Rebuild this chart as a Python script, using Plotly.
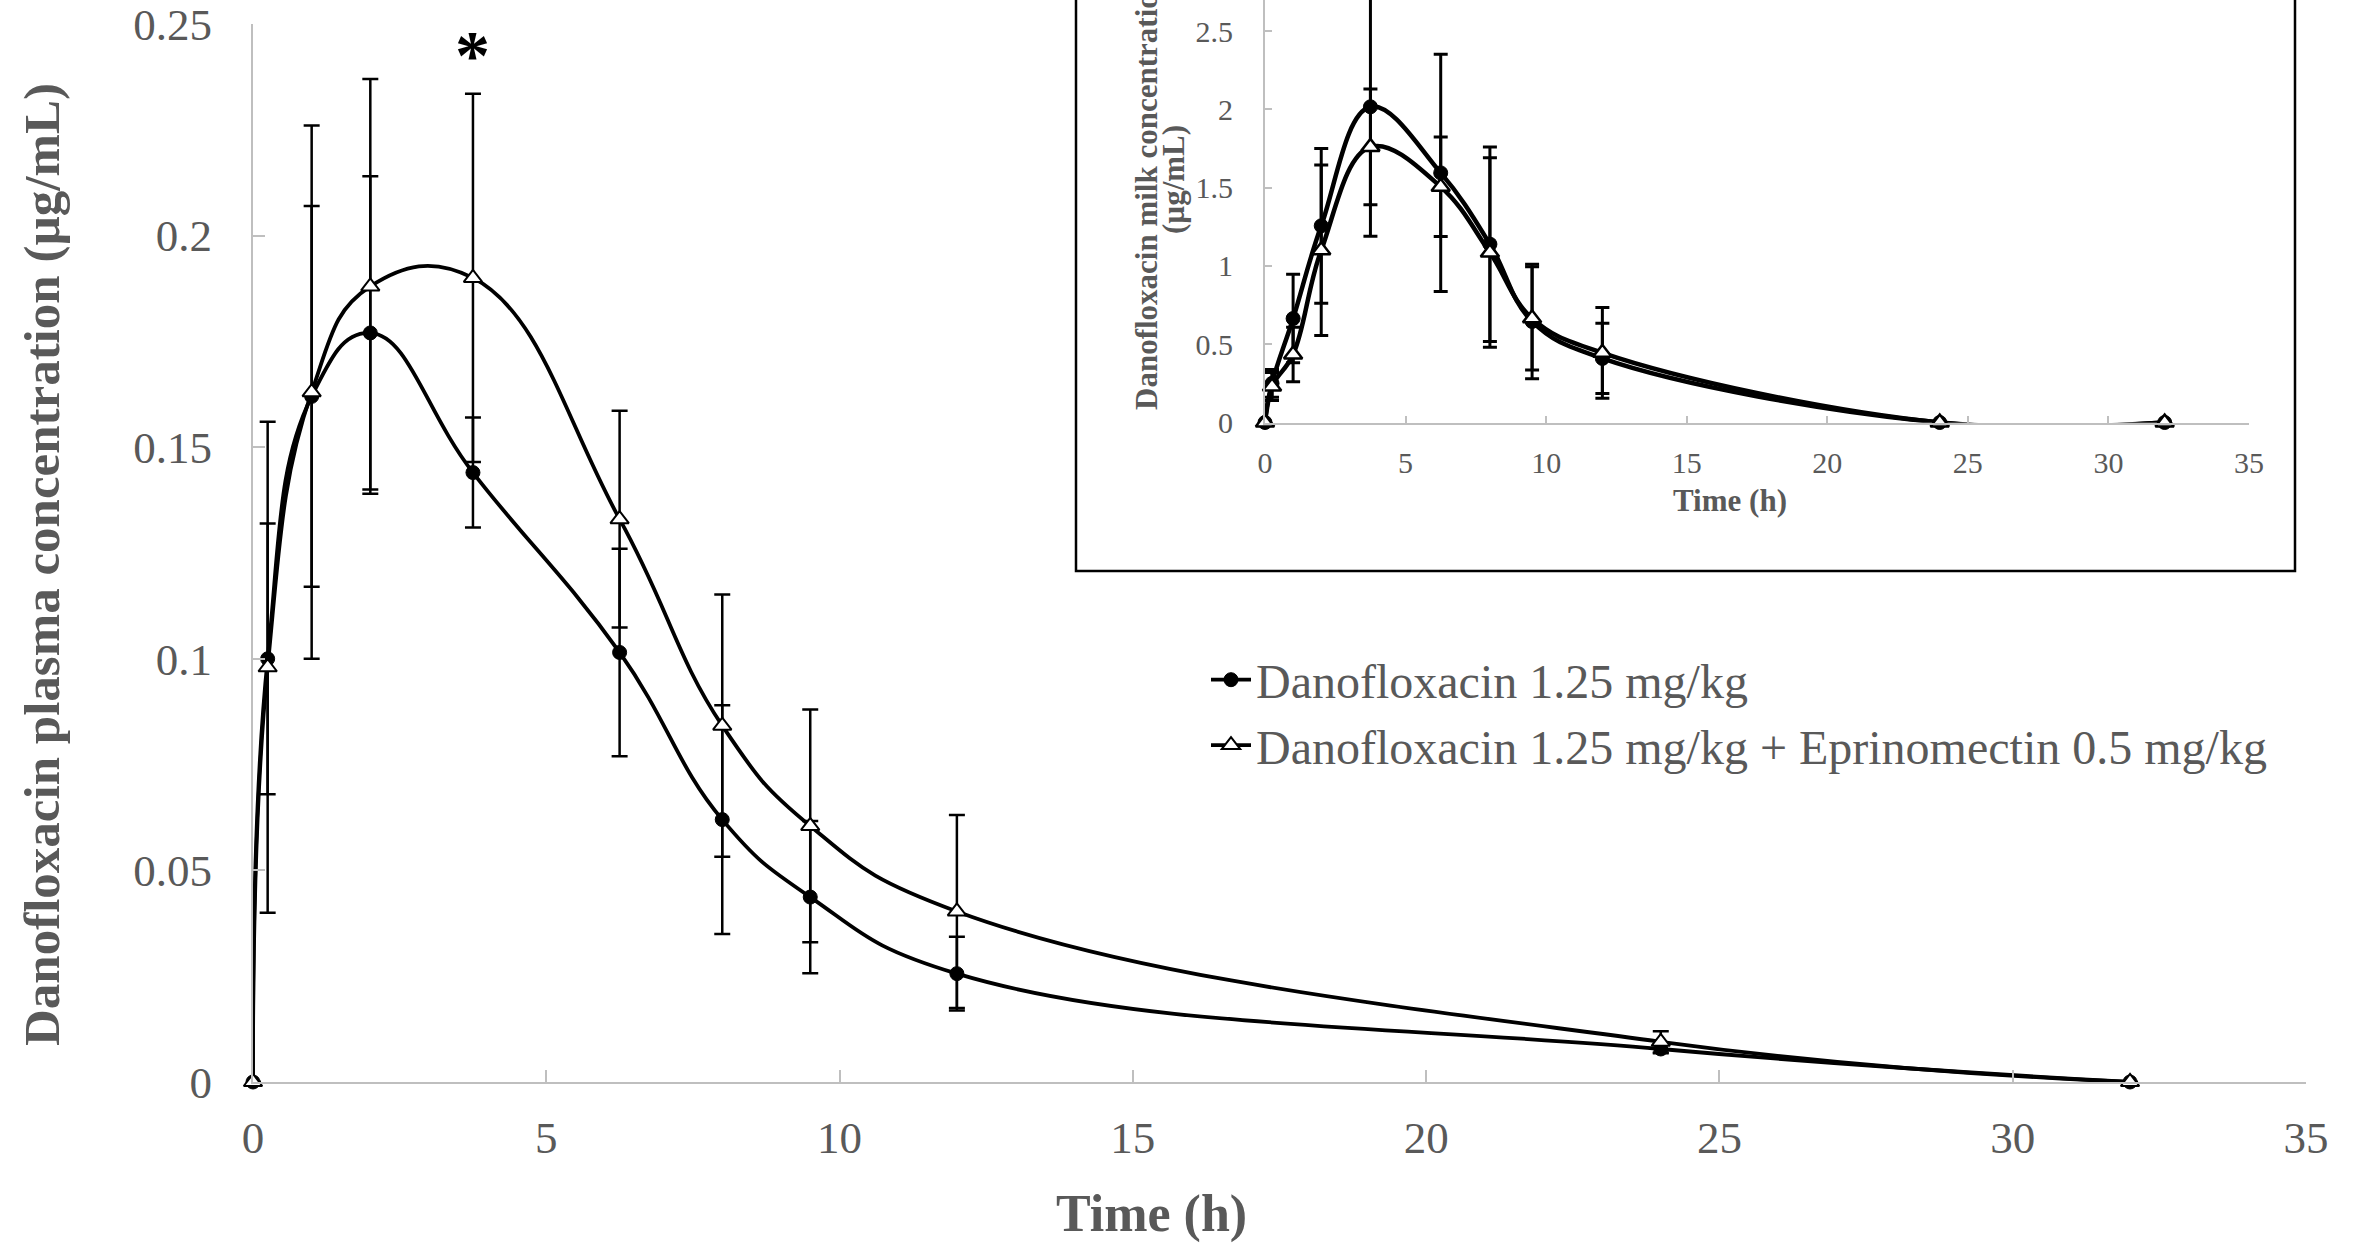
import plotly.graph_objects as go

# ---------------- data ----------------
time_h = [0, 0.25, 1, 2, 3.75, 6.25, 8, 9.5, 12, 24, 32]

plasma_dano = [0, 0.100, 0.162, 0.177, 0.144, 0.1015, 0.062, 0.0437, 0.0256, 0.0078, 0]
plasma_dano_sd = [0, 0.032, 0.045, 0.037, 0.013, 0.0245, 0.027, 0.018, 0.0087, 0.001, 0]
plasma_combo = [0, 0.098, 0.163, 0.188, 0.190, 0.133, 0.0842, 0.0605, 0.0403, 0.0095, 0]
plasma_combo_sd = [0, 0.058, 0.063, 0.049, 0.0435, 0.0256, 0.031, 0.0275, 0.0228, 0.0025, 0]

milk_dano = [0, 0.25, 0.664, 1.256, 2.016, 1.594, 1.139, 0.645, 0.409, 0, 0]
milk_dano_sd = [0, 0.088, 0.283, 0.494, 0.826, 0.758, 0.621, 0.365, 0.224, 0, 0]
milk_combo = [0, 0.23, 0.434, 1.100, 1.760, 1.505, 1.085, 0.665, 0.445, 0, 0]
milk_combo_sd = [0, 0.09, 0.174, 0.545, 0.37, 0.318, 0.605, 0.33, 0.29, 0, 0]

name_dano = "Danofloxacin 1.25 mg/kg"
name_combo = "Danofloxacin 1.25 mg/kg + Eprinomectin 0.5 mg/kg"

x_ticks = [0, 5, 10, 15, 20, 25, 30, 35]
plasma_ticks = [0, 0.05, 0.1, 0.15, 0.2, 0.25]
plasma_ticktext = ["0", "0.05", "0.1", "0.15", "0.2", "0.25"]
milk_ticks = [0, 0.5, 1, 1.5, 2, 2.5]

# ---------------- styling ----------------
FONT = "Liberation Serif, Times New Roman, serif"
GREY_TXT = "#595959"
AXIS_GREY = "#bfbfbf"
W, H = 2362, 1244


def err(vals):
    return [v if v > 0 else None for v in vals]


fig = go.Figure()

# main plot traces
fig.add_trace(go.Scatter(
    x=time_h, y=plasma_dano, name=name_dano, mode="lines+markers",
    line=dict(color="black", width=3.8, shape="spline", smoothing=1.25),
    marker=dict(symbol="circle", size=14, color="black", line=dict(color="black", width=1)),
    error_y=dict(type="data", array=err(plasma_dano_sd), color="black", thickness=2.5, width=8),
    cliponaxis=False, xaxis="x", yaxis="y"))
fig.add_trace(go.Scatter(
    x=time_h, y=plasma_combo, name=name_combo, mode="lines+markers",
    line=dict(color="black", width=3.8, shape="spline", smoothing=1.25),
    marker=dict(symbol="triangle-up", size=16, color="white", line=dict(color="black", width=2)),
    error_y=dict(type="data", array=err(plasma_combo_sd), color="black", thickness=2.5, width=8),
    cliponaxis=False, xaxis="x", yaxis="y"))

# inset traces
fig.add_trace(go.Scatter(
    x=time_h, y=milk_dano, name=name_dano, mode="lines+markers", showlegend=False,
    line=dict(color="black", width=4.5, shape="spline", smoothing=1.1),
    marker=dict(symbol="circle", size=14, color="black", line=dict(color="black", width=1)),
    error_y=dict(type="data", array=err(milk_dano_sd), color="black", thickness=3, width=7),
    cliponaxis=False, xaxis="x2", yaxis="y2"))
fig.add_trace(go.Scatter(
    x=time_h, y=milk_combo, name=name_combo, mode="lines+markers", showlegend=False,
    line=dict(color="black", width=4.5, shape="spline", smoothing=1.1),
    marker=dict(symbol="triangle-up", size=16, color="white", line=dict(color="black", width=2.5)),
    error_y=dict(type="data", array=err(milk_combo_sd), color="black", thickness=3, width=7),
    cliponaxis=False, xaxis="x2", yaxis="y2"))

axis_common = dict(showline=True, linecolor=AXIS_GREY, linewidth=2, ticks="inside",
                   tickcolor=AXIS_GREY, tickwidth=2, showgrid=False, zeroline=False,
                   automargin=False, ticklabeloverflow="allow")

fig.update_layout(
    template="none",
    width=W, height=H, autosize=False,
    margin=dict(l=0, r=0, t=0, b=0, pad=0, autoexpand=False),
    paper_bgcolor="white", plot_bgcolor="rgba(0,0,0,0)",
    font=dict(family=FONT, color=GREY_TXT),
    xaxis=dict(domain=[253 / W, 2306 / W], range=[0, 35], tickvals=x_ticks, anchor="y",
               ticklen=12, tickfont=dict(size=45, family=FONT, color=GREY_TXT),
               ticklabelstandoff=15, **axis_common),
    yaxis=dict(domain=[(H - 1082) / H, (H - 24) / H], range=[0, 0.2500001],
               tickvals=plasma_ticks, ticktext=plasma_ticktext,
               anchor="x", ticklen=12, tickfont=dict(size=45, family=FONT, color=GREY_TXT),
               ticklabelstandoff=30, **axis_common),
    xaxis2=dict(domain=[1265 / W, 2249 / W], range=[0, 35], tickvals=x_ticks, anchor="y2",
                ticklen=7, tickfont=dict(size=30, family=FONT, color=GREY_TXT),
                ticklabelstandoff=12, **axis_common),
    yaxis2=dict(domain=[(H - 422.5) / H, 1.0], range=[0, 422.5 / 156.6], tickvals=milk_ticks,
                anchor="x2", ticklen=7, tickfont=dict(size=30, family=FONT, color=GREY_TXT),
                ticklabelstandoff=24, **axis_common),
    legend=dict(x=1206 / W, y=(H - 642) / H, xanchor="left", yanchor="top",
                font=dict(size=48, family=FONT, color=GREY_TXT),
                bgcolor="rgba(0,0,0,0)", borderwidth=0, itemwidth=40,
                tracegroupgap=0),
    showlegend=True,
)

# inset frame
fig.add_shape(type="rect", xref="paper", yref="paper",
              x0=1076 / W, x1=2295 / W, y0=(H - 571) / H, y1=1.05,
              line=dict(color="black", width=2.5), fillcolor="rgba(0,0,0,0)", layer="below")

# titles
fig.add_annotation(text="<b>Danofloxacin plasma concentration (µg/mL)</b>",
                   xref="paper", yref="paper", x=42 / W, y=(H - 565) / H,
                   textangle=-90, showarrow=False, xanchor="center", yanchor="middle",
                   font=dict(size=51, family=FONT, color=GREY_TXT))
fig.add_annotation(text="<b>Time (h)</b>", xref="paper", yref="paper",
                   x=1151 / W, y=(H - 1214) / H, showarrow=False,
                   xanchor="center", yanchor="middle",
                   font=dict(size=52, family=FONT, color=GREY_TXT))
fig.add_annotation(text="<b>Time (h)</b>", xref="paper", yref="paper",
                   x=1730 / W, y=(H - 500) / H, showarrow=False,
                   xanchor="center", yanchor="middle",
                   font=dict(size=31, family=FONT, color=GREY_TXT))
fig.add_annotation(text="<b>Danofloxacin milk concentration</b>",
                   xref="paper", yref="paper", x=1146 / W, y=(H - 412) / H,
                   textangle=-90, showarrow=False, xanchor="center", yanchor="bottom",
                   font=dict(size=31, family=FONT, color=GREY_TXT))
fig.add_annotation(text="<b>(µg/mL)</b>",
                   xref="paper", yref="paper", x=1173 / W, y=(H - 180) / H,
                   textangle=-90, showarrow=False, xanchor="center", yanchor="middle",
                   font=dict(size=31, family=FONT, color=GREY_TXT))
# significance marker
fig.add_annotation(text="<b>*</b>", xref="x", yref="y", x=3.75, y=0.2425,
                   showarrow=False, xanchor="center", yanchor="middle",
                   font=dict(size=70, family=FONT, color="black"))

fig.write_html("out.html", include_plotlyjs=True,
               config={"displayModeBar": False, "responsive": False},
               post_script="document.body.style.margin='0';document.body.style.overflow='hidden';")
